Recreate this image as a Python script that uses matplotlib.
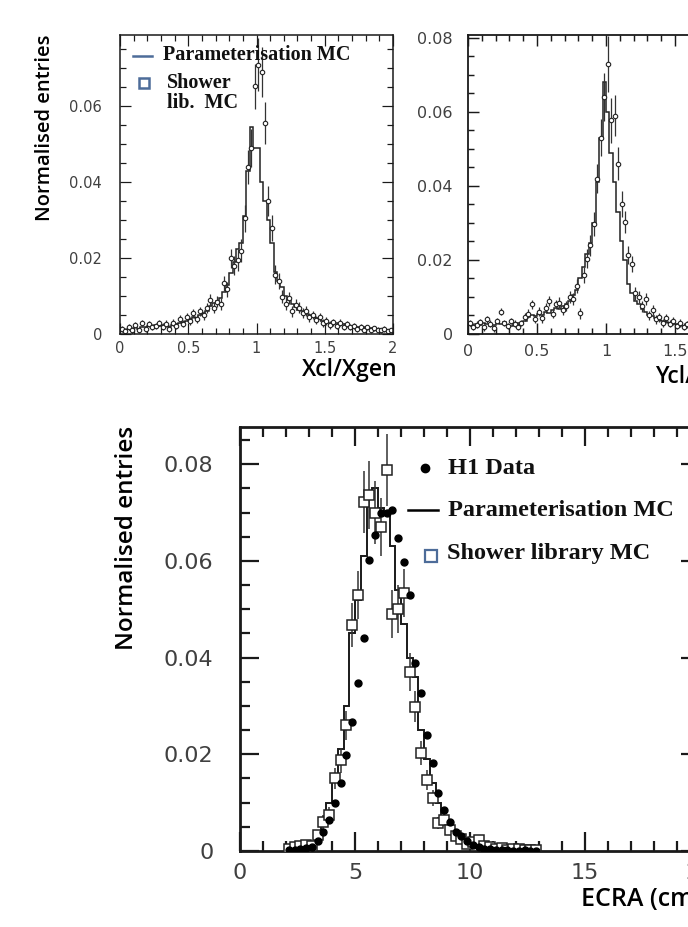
import numpy as np
import matplotlib
matplotlib.use("Agg")
import matplotlib.pyplot as plt
from matplotlib.lines import Line2D
from matplotlib.ticker import MultipleLocator

W, H = 688, 927
DPI = 100

# ---------------- data ----------------
# top panels: 80 bins of width 0.025 on [0, 2]
top_lo, top_hi, top_nbins = 0.0, 2.0, 80

tl_param = [0.0010, 0.0012, 0.0015, 0.0012, 0.0018, 0.0015, 0.0020, 0.0018, 0.0022, 0.0020, 0.0025, 0.0022,
            0.0025, 0.0022, 0.0020, 0.0024, 0.0028, 0.0030, 0.0032, 0.0035,
            0.0040, 0.0045, 0.0042, 0.0050, 0.0055, 0.0060,
            0.0075, 0.0082, 0.0088, 0.0095,
            0.0110, 0.0130, 0.0160, 0.0190, 0.0225, 0.0240,
            0.0310, 0.0430, 0.0545, 0.0490, 0.0490, 0.0400, 0.0350, 0.0300, 0.0240, 0.0165,
            0.0140, 0.0125, 0.0100, 0.0090, 0.0080, 0.0072,
            0.0065, 0.0060, 0.0055, 0.0050, 0.0045, 0.0042, 0.0040, 0.0035,
            0.0032, 0.0030, 0.0028, 0.0030, 0.0025, 0.0026, 0.0022, 0.0020,
            0.0020, 0.0018, 0.0017, 0.0018, 0.0015, 0.0016, 0.0014, 0.0013, 0.0012, 0.0012, 0.0010, 0.0010]
tl_shower = [0.0015, 0.0008, 0.0020, 0.0010, 0.0025, 0.0012, 0.0030, 0.0015, 0.0028, 0.0018, 0.0022, 0.0030,
             0.0020, 0.0028, 0.0015, 0.0030, 0.0022, 0.0040, 0.0028, 0.0045,
             0.0035, 0.0055, 0.0040, 0.0060, 0.0050, 0.0070,
             0.0090, 0.0070, 0.0086, 0.0080,
             0.0134, 0.0118, 0.0200, 0.0180, 0.0195, 0.0220,
             0.0305, 0.0440, 0.0490, 0.0652, 0.0709, 0.0690, 0.0555, 0.0350, 0.0280, 0.0156,
             0.0140, 0.0099, 0.0080, 0.0095, 0.0060, 0.0078,
             0.0070, 0.0055, 0.0062, 0.0045, 0.0050, 0.0038, 0.0045, 0.0030,
             0.0035, 0.0025, 0.0032, 0.0022, 0.0030, 0.0020, 0.0028, 0.0018,
             0.0022, 0.0015, 0.0020, 0.0012, 0.0018, 0.0010, 0.0016, 0.0012, 0.0010, 0.0014, 0.0008, 0.0011]
tl_err = [0.0008, 0.0008, 0.0008, 0.0008, 0.0008, 0.0008, 0.0008, 0.0008, 0.0008, 0.0008, 0.0008, 0.0008,
          0.0009, 0.0009, 0.0009, 0.0009, 0.0009, 0.0010, 0.0010, 0.0010,
          0.0010, 0.0012, 0.0011, 0.0012, 0.0012, 0.0013,
          0.0015, 0.0014, 0.0015, 0.0015,
          0.0020, 0.0020, 0.0025, 0.0025, 0.0028, 0.0030,
          0.0035, 0.0045, 0.0050, 0.0060, 0.0070, 0.0065, 0.0055, 0.0040, 0.0035, 0.0025,
          0.0020, 0.0018, 0.0016, 0.0016, 0.0015, 0.0015,
          0.0014, 0.0013, 0.0013, 0.0012, 0.0011, 0.0011, 0.0011, 0.0010,
          0.0010, 0.0010, 0.0009, 0.0009, 0.0009, 0.0009, 0.0008, 0.0008,
          0.0008, 0.0008, 0.0008, 0.0007, 0.0007, 0.0007, 0.0007, 0.0007, 0.0007, 0.0007, 0.0006, 0.0006]

tr_param = [0.0025, 0.0022, 0.0028, 0.0025, 0.0030, 0.0026, 0.0022, 0.0025, 0.0030, 0.0028, 0.0032, 0.0025,
            0.0022, 0.0028, 0.0030, 0.0026,
            0.0035, 0.0045, 0.0050, 0.0048,
            0.0055, 0.0050, 0.0060, 0.0058,
            0.0065, 0.0070, 0.0068, 0.0075,
            0.0080, 0.0090, 0.0105, 0.0120,
            0.0150, 0.0180, 0.0215, 0.0245, 0.0300, 0.0410, 0.0530, 0.0680, 0.0600, 0.0490, 0.0410, 0.0330,
            0.0250, 0.0200, 0.0135, 0.0110,
            0.0090, 0.0080, 0.0068, 0.0060,
            0.0052, 0.0048, 0.0042, 0.0038, 0.0035, 0.0032, 0.0030, 0.0028,
            0.0026, 0.0025, 0.0022, 0.0024, 0.0020, 0.0021, 0.0019, 0.0020, 0.0018, 0.0017,
            0.0018, 0.0016, 0.0015, 0.0016, 0.0014, 0.0015, 0.0013, 0.0014, 0.0012, 0.0013]
tr_shower = [0.0030, 0.0020, 0.0025, 0.0032, 0.0018, 0.0040, 0.0028, 0.0015, 0.0035, 0.0060, 0.0030, 0.0022,
             0.0035, 0.0028, 0.0020, 0.0030,
             0.0045, 0.0055, 0.0080, 0.0040,
             0.0060, 0.0042, 0.0070, 0.0090,
             0.0055, 0.0080, 0.0085, 0.0065,
             0.0075, 0.0100, 0.0095, 0.0130,
             0.0056, 0.0159, 0.0204, 0.0240, 0.0298, 0.0420, 0.0530, 0.0640, 0.0730, 0.0577, 0.0590, 0.0460,
             0.0352, 0.0303, 0.0213, 0.0190,
             0.0110, 0.0100, 0.0075, 0.0095,
             0.0050, 0.0065, 0.0040, 0.0045, 0.0030, 0.0042, 0.0028, 0.0035,
             0.0022, 0.0030, 0.0020, 0.0026, 0.0018, 0.0024, 0.0015, 0.0022, 0.0020, 0.0014,
             0.0018, 0.0012, 0.0016, 0.0013, 0.0017, 0.0011, 0.0015, 0.0012, 0.0014, 0.0010]
tr_err = [0.0009, 0.0009, 0.0009, 0.0009, 0.0009, 0.0009, 0.0009, 0.0009, 0.0009, 0.0010, 0.0009, 0.0009,
          0.0009, 0.0009, 0.0009, 0.0009,
          0.0011, 0.0012, 0.0013, 0.0011,
          0.0012, 0.0011, 0.0013, 0.0014,
          0.0012, 0.0013, 0.0014, 0.0013,
          0.0014, 0.0015, 0.0016, 0.0018,
          0.0015, 0.0022, 0.0025, 0.0028, 0.0032, 0.0040, 0.0050, 0.0065, 0.0075, 0.0060, 0.0055, 0.0045,
          0.0035, 0.0030, 0.0025, 0.0022,
          0.0018, 0.0017, 0.0015, 0.0016,
          0.0013, 0.0014, 0.0012, 0.0012, 0.0011, 0.0012, 0.0010, 0.0011,
          0.0009, 0.0010, 0.0009, 0.0009, 0.0008, 0.0009, 0.0008, 0.0008, 0.0008, 0.0007,
          0.0008, 0.0007, 0.0007, 0.0007, 0.0007, 0.0006, 0.0007, 0.0006, 0.0006, 0.0006]

# bottom panel: 44 bins of width 0.25 cm on [2, 13]
bot_lo, bot_hi, bot_nbins = 2.0, 13.0, 44
ecra_param = [0.0005, 0.0005, 0.0010, 0.0010, 0.0015, 0.0030, 0.0060, 0.0100, 0.0160, 0.0210,
              0.0300, 0.0450, 0.0520, 0.0610, 0.0740, 0.0750, 0.0710, 0.0700, 0.0630, 0.0540,
              0.0470, 0.0400, 0.0360, 0.0250, 0.0190, 0.0140, 0.0100, 0.0070, 0.0050, 0.0030,
              0.0020, 0.0015, 0.0010, 0.0008, 0.0005, 0.0004, 0.0003, 0.0002, 0.0002, 0.0001,
              0.0001, 0.0001, 0.0001, 0.0000]
ecra_shower = [0.0005, 0.0008, 0.0010, 0.0012, 0.0010, 0.0033, 0.0060, 0.0074, 0.0150, 0.0188,
               0.0260, 0.0467, 0.0529, 0.0722, 0.0736, 0.0700, 0.0670, 0.0788, 0.0490, 0.0500,
               0.0533, 0.0370, 0.0298, 0.0202, 0.0147, 0.0110, 0.0058, 0.0065, 0.0043, 0.0030,
               0.0025, 0.0015, 0.0018, 0.0022, 0.0010, 0.0008, 0.0005, 0.0006, 0.0003, 0.0004,
               0.0004, 0.0002, 0.0003, 0.0002]
ecra_shower_err = [0.0004, 0.0005, 0.0005, 0.0006, 0.0005, 0.0010, 0.0014, 0.0016, 0.0022, 0.0026,
                   0.0030, 0.0045, 0.0050, 0.0065, 0.0070, 0.0065, 0.0060, 0.0075, 0.0050, 0.0050,
                   0.0050, 0.0040, 0.0032, 0.0025, 0.0020, 0.0016, 0.0012, 0.0012, 0.0010, 0.0008,
                   0.0007, 0.0006, 0.0006, 0.0007, 0.0005, 0.0004, 0.0003, 0.0003, 0.0002, 0.0002,
                   0.0002, 0.0002, 0.0002, 0.0002]
ecra_h1 = [0.0002, 0.0003, 0.0005, 0.0006, 0.0008, 0.0020, 0.0040, 0.0065, 0.0100, 0.0140,
           0.0198, 0.0267, 0.0347, 0.0440, 0.0601, 0.0653, 0.0700, 0.0700, 0.0705, 0.0647,
           0.0598, 0.0529, 0.0389, 0.0327, 0.0240, 0.0182, 0.0120, 0.0085, 0.0060, 0.0040,
           0.0030, 0.0020, 0.0012, 0.0008, 0.0005, 0.0004, 0.0003, 0.0002, 0.0002, 0.0001,
           0.0001, 0.0002, 0.0001, 0.0001]

top_xticks = [0, 0.5, 1, 1.5, 2]
top_xticklabels = ["0", "0.5", "1", "1.5", "2"]
top_yticks = [0, 0.02, 0.04, 0.06, 0.08]
top_yticklabels = ["0", "0.02", "0.04", "0.06", "0.08"]
bot_xticks = [0, 5, 10, 15, 20]
bot_xticklabels = ["0", "5", "10", "15", "20"]
bot_yticks = [0, 0.02, 0.04, 0.06, 0.08]
bot_yticklabels = ["0", "0.02", "0.04", "0.06", "0.08"]

# ---------------- figure ----------------
fig = plt.figure(figsize=(W / DPI, H / DPI), dpi=DPI)
fig.patch.set_facecolor("white")

def axes_px(l, t, r, b):
    return fig.add_axes([l / W, 1 - b / H, (r - l) / W, (b - t) / H])

def fx(x):
    return x / W

def fy(y):
    return 1 - y / H

TICKC = "#404040"
BLUE = "#4d6c99"
LABF = ["Open Sans", "DejaVu Sans"]

def style(ax, lab_size, xpad, ypad, maj_len, min_len, lw):
    for s in ax.spines.values():
        s.set_linewidth(lw)
        s.set_color("#1a1a1a")
    ax.tick_params(which="both", direction="in", top=True, right=True,
                   width=lw * 0.8, color="#1a1a1a")
    ax.tick_params(which="major", length=maj_len)
    ax.tick_params(which="minor", length=min_len)
    ax.tick_params(axis="x", which="major", pad=xpad, labelsize=lab_size, labelcolor=TICKC)
    ax.tick_params(axis="y", which="major", pad=ypad, labelsize=lab_size, labelcolor=TICKC)

# ---- top-left ----
ax1 = axes_px(120, 35, 393, 334.3)
edges_top = np.linspace(top_lo, top_hi, top_nbins + 1)
cent_top = 0.5 * (edges_top[:-1] + edges_top[1:])
ax1.stairs(tl_param, edges_top, color="#222222", lw=1.1)
ax1.errorbar(cent_top, tl_shower, yerr=tl_err, fmt="o", ms=3.2, mfc="white", mec="#222222",
             mew=0.8, ecolor="#333333", elinewidth=0.9, capsize=0)
ax1.set_xlim(0, 2)
ax1.set_ylim(0, 0.0787)
ax1.set_xticks(top_xticks)
ax1.set_xticklabels(top_xticklabels)
ax1.set_yticks(top_yticks[:4])
ax1.set_yticklabels(top_yticklabels[:4])
ax1.xaxis.set_minor_locator(MultipleLocator(0.1))
ax1.yaxis.set_minor_locator(MultipleLocator(0.005))
style(ax1, 10.5, 4.5, 13, 8, 4.3, 1.1)

# ---- top-right ----
ax2 = axes_px(468, 35, 744, 334)
ax2.stairs(tr_param, edges_top, color="#222222", lw=1.1)
ax2.errorbar(cent_top, tr_shower, yerr=tr_err, fmt="o", ms=3.2, mfc="white", mec="#222222",
             mew=0.8, ecolor="#333333", elinewidth=0.9, capsize=0)
ax2.set_xlim(0, 2)
ax2.set_ylim(0, 0.0808)
ax2.set_xticks(top_xticks)
ax2.set_xticklabels(top_xticklabels)
ax2.set_yticks(top_yticks)
ax2.set_yticklabels(top_yticklabels)
ax2.xaxis.set_minor_locator(MultipleLocator(0.1))
ax2.yaxis.set_minor_locator(MultipleLocator(0.005))
style(ax2, 11.5, 7, 11, 8, 4.3, 1.3)

# ---- bottom ----
ax3 = axes_px(240, 427, 700, 851)
edges_bot = np.linspace(bot_lo, bot_hi, bot_nbins + 1)
cent_bot = 0.5 * (edges_bot[:-1] + edges_bot[1:])
ax3.stairs(ecra_param, edges_bot, color="#1a1a1a", lw=1.4)
ax3.errorbar(cent_bot, ecra_shower, yerr=ecra_shower_err, fmt="s", ms=6.5, mfc="white", mec="#222222",
             mew=1.1, ecolor="#333333", elinewidth=1.1, capsize=0, zorder=3)
ax3.plot(cent_bot, ecra_h1, "o", ms=5, color="black", zorder=4)
ax3.set_xlim(0, 20)
ax3.set_ylim(0, 0.0877)
ax3.set_xticks(bot_xticks)
ax3.set_xticklabels(bot_xticklabels)
ax3.set_yticks(bot_yticks)
ax3.set_yticklabels(bot_yticklabels)
ax3.xaxis.set_minor_locator(MultipleLocator(1))
ax3.yaxis.set_minor_locator(MultipleLocator(0.005))
style(ax3, 16, 8.6, 19, 13.7, 7.2, 2.0)

# ---- axis labels ----
fig.text(fx(45), fy(128), "Normalised entries", rotation=90, ha="center", va="center",
         fontsize=14.5, family=LABF, weight="semibold", color="black")
fig.text(fx(398), fy(370), "Xcl/Xgen", ha="right", va="center", fontsize=16.5,
         family=LABF, weight="semibold", color="black")
fig.text(fx(748), fy(377), "Ycl/Ygen", ha="right", va="center", fontsize=16.5,
         family=LABF, weight="semibold", color="black")
fig.text(fx(127), fy(538), "Normalised entries", rotation=90, ha="center", va="center",
         fontsize=17.5, family=LABF, weight="semibold", color="black")
fig.text(fx(702), fy(899), "ECRA (cm)", ha="right", va="center", fontsize=18,
         family=LABF, weight="semibold", color="black")

# ---- legends ----
serif = "Liberation Serif"
fig.add_artist(Line2D([fx(133), fx(152)], [fy(56), fy(56)], color=BLUE, lw=1.8,
                      transform=fig.transFigure))
fig.text(fx(163), fy(55), "Parameterisation MC", ha="left", va="center", fontsize=14.5,
         family=serif, weight="bold", color="#111111")
fig.add_artist(Line2D([fx(144)], [fy(83)], marker="s", ms=7.5, mfc="white", mec=BLUE, mew=1.8,
                      ls="none", transform=fig.transFigure))
fig.text(fx(167), fy(83), "Shower", ha="left", va="center", fontsize=14.5,
         family=serif, weight="bold", color="#111111")
fig.text(fx(167), fy(103), "lib.  MC", ha="left", va="center", fontsize=14.5,
         family=serif, weight="bold", color="#111111")

fig.add_artist(Line2D([fx(425)], [fy(468)], marker="o", ms=6, color="black",
                      ls="none", transform=fig.transFigure))
fig.text(fx(448), fy(468), "H1 Data", ha="left", va="center", fontsize=17.5,
         family=serif, weight="bold", color="#111111")
fig.add_artist(Line2D([fx(408), fx(438)], [fy(510), fy(510)], color="black", lw=1.8,
                      transform=fig.transFigure))
fig.text(fx(448), fy(510), "Parameterisation MC", ha="left", va="center", fontsize=17.5,
         family=serif, weight="bold", color="#111111")
fig.add_artist(Line2D([fx(431)], [fy(556)], marker="s", ms=8, mfc="white", mec=BLUE, mew=1.6,
                      ls="none", transform=fig.transFigure))
fig.text(fx(447), fy(553), "Shower library MC", ha="left", va="center", fontsize=17.5,
         family=serif, weight="bold", color="#111111")

fig.savefig("out.png", dpi=DPI, facecolor="white")
